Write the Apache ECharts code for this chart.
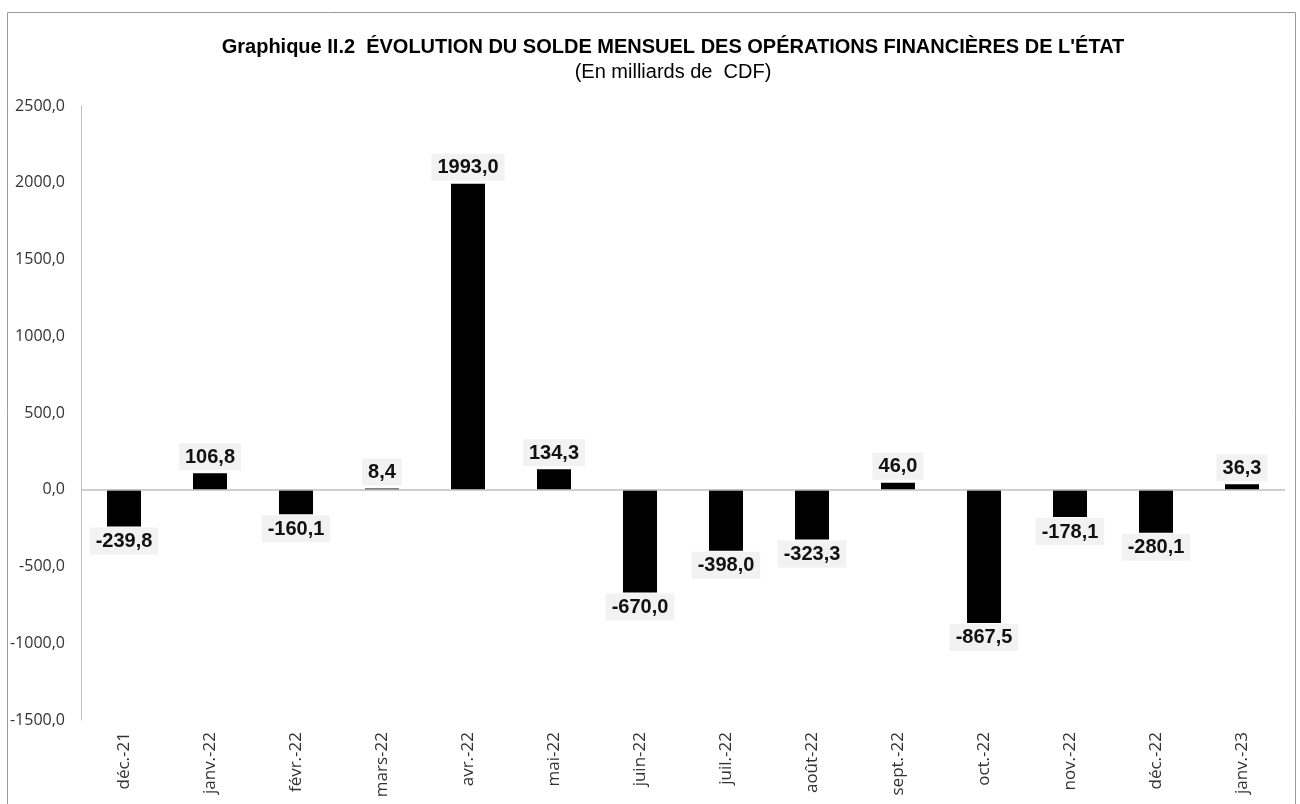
<!DOCTYPE html>
<html>
<head>
<meta charset="utf-8">
<script src="https://cdn.jsdelivr.net/npm/echarts@6/dist/echarts.min.js"></script>
<style>
  html, body { margin: 0; padding: 0; background: #fff; }
  #main { width: 1300px; height: 804px; }
</style>
</head>
<body>
<div id="main"></div>
<script>
var mois = ['déc.-21', 'janv.-22', 'févr.-22', 'mars-22', 'avr.-22', 'mai-22', 'juin-22',
            'juil.-22', 'août-22', 'sept.-22', 'oct.-22', 'nov.-22', 'déc.-22', 'janv.-23'];
var solde = [-239.8, 106.8, -160.1, 8.4, 1993.0, 134.3, -670.0,
             -398.0, -323.3, 46.0, -867.5, -178.1, -280.1, 36.3];
var yMin = -1500, yMax = 2500, yPas = 500;

function virgule(v) {
    return Number(v).toFixed(1).replace('.', ',');
}

var chart = echarts.init(document.getElementById('main'));

// barres négatives : étiquette sous la barre
var donnees = solde.map(function (v) {
    return {
        value: v,
        label: v < 0 ? { position: 'bottom', distance: 1 } : { position: 'top', distance: 3 }
    };
});

var option = {
    backgroundColor: '#fff',
    animation: false,
    title: {
        text: "Graphique II.2  ÉVOLUTION DU SOLDE MENSUEL DES OPÉRATIONS FINANCIÈRES DE L'ÉTAT",
        subtext: '(En milliards de  CDF)',
        left: 668,
        textAlign: 'center',
        top: 32,
        itemGap: 5,
        textStyle: {
            fontFamily: '"Liberation Sans Narrow", "Liberation Sans", Arial, sans-serif',
            fontWeight: 'bold',
            fontSize: 20,
            color: '#000'
        },
        subtextStyle: {
            fontFamily: '"Liberation Sans Narrow", "Liberation Sans", Arial, sans-serif',
            fontSize: 20,
            color: '#000'
        }
    },
    graphic: [{
        type: 'rect',
        shape: { x: 7.5, y: 12.5, width: 1288, height: 820 },
        style: { fill: 'none', stroke: '#9a9a9a', lineWidth: 1 },
        silent: true
    }],
    grid: { left: 81, right: 15, top: 106, bottom: 84 },
    xAxis: {
        type: 'category',
        data: mois,
        position: 'bottom',
        axisLine: { show: false, onZero: false },
        axisTick: { show: false },
        axisLabel: {
            rotate: 90,
            margin: 12,
            fontFamily: '"Open Sans", "Noto Sans", sans-serif',
            fontSize: 17,
            color: '#333'
        }
    },
    yAxis: {
        type: 'value',
        min: yMin,
        max: yMax,
        interval: yPas,
        axisLine: { show: true, lineStyle: { color: '#bfbfbf', width: 1 } },
        axisTick: { show: false },
        splitLine: { show: false },
        axisLabel: {
            margin: 16,
            fontFamily: '"Open Sans", "Noto Sans", sans-serif',
            fontSize: 16,
            color: '#333',
            formatter: virgule
        }
    },
    series: [{
        type: 'bar',
        data: donnees,
        barWidth: 34,
        itemStyle: { color: '#000' },
        label: {
            show: true,
            formatter: function (p) { return virgule(p.value); },
            fontFamily: '"Liberation Sans", Arial, sans-serif',
            fontWeight: 'bold',
            fontSize: 20,
            color: '#111',
            backgroundColor: '#f2f2f2',
            padding: [4, 6, 3, 6]
        },
        markLine: {
            silent: true,
            symbol: 'none',
            label: { show: false },
            lineStyle: { color: '#bfbfbf', type: 'solid', width: 1.5 },
            data: [{ yAxis: 0 }]
        },
        z: 3
    }]
};

chart.setOption(option);
</script>
</body>
</html>
